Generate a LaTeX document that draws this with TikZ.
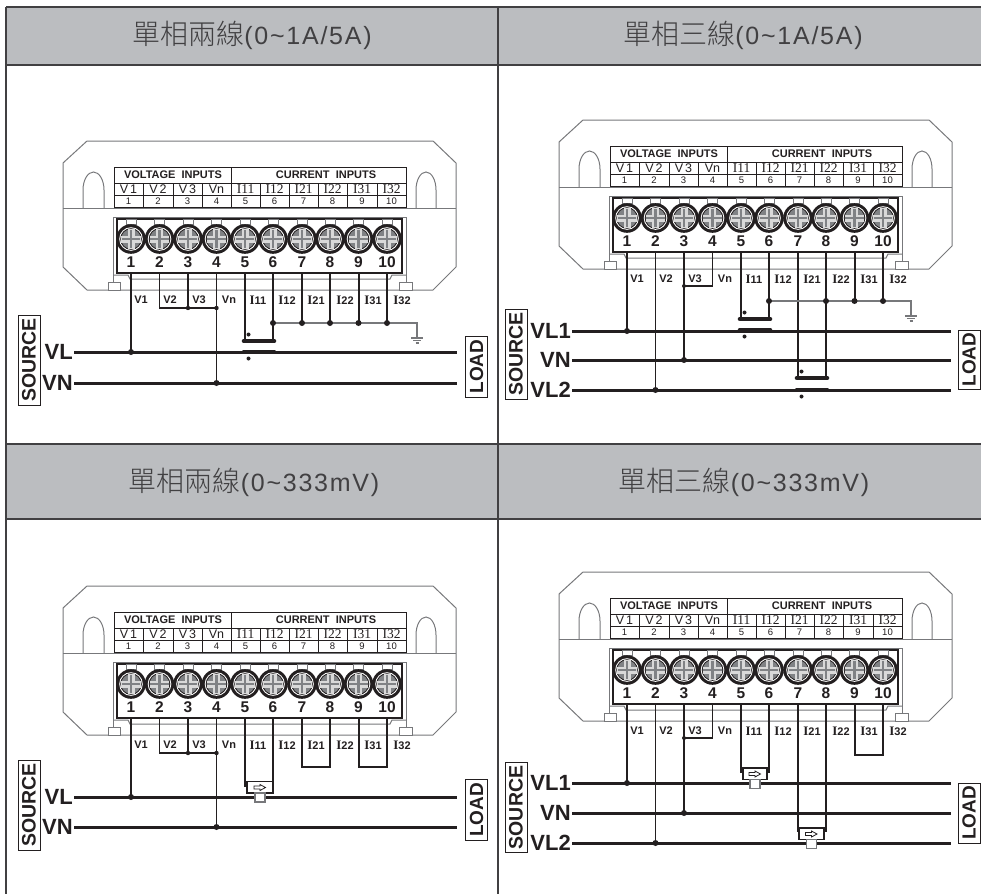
\documentclass[tikz,border=0pt]{standalone}
\usepackage{fontspec}
\setmainfont{Liberation Sans}
\newfontfamily\cjkfont{Noto Sans CJK TC Light}
\newfontfamily\headfont[LetterSpace=7]{Liberation Sans}
\newfontfamily\ifont{Liberation Serif}
\definecolor{headgray}{HTML}{BBBDC0}
\definecolor{ink}{HTML}{231F20}
\definecolor{frameink}{HTML}{414042}
\definecolor{bodygray}{HTML}{77787B}
\definecolor{screwgray}{HTML}{808285}
\tikzset{
  framer/.style={draw=frameink, line width=1.3pt},
  body/.style={draw=bodygray, line width=1pt},
  tabl/.style={draw=ink, line width=.9pt},
  wire/.style={draw=ink, line width=1.4pt},
  cwire/.style={draw=ink, line width=2pt},
  rail/.style={draw=ink, line width=3pt},
  coil/.style={draw=ink, line width=4.6pt, line cap=round},
  headtxt/.style={text=frameink, font=\fontsize{25}{25}\selectfont},
  tabhead/.style={font=\bfseries\fontsize{11}{11}\selectfont, text=ink, inner sep=0pt},
  tabname/.style={font=\fontsize{12.5}{13}\selectfont, text=ink, inner sep=0pt, anchor=base},
  tabnum/.style={font=\fontsize{9.5}{10}\selectfont, text=ink, inner sep=0pt},
  termnum/.style={font=\bfseries\fontsize{15.5}{16}\selectfont, text=ink, inner sep=0pt},
  wirelab/.style={font=\bfseries\fontsize{11}{11}\selectfont, text=ink, inner sep=0pt},
  railname/.style={font=\bfseries\fontsize{22}{22}\selectfont, text=ink, inner sep=1pt, anchor=east},
  sidebox/.style={draw=ink, line width=1pt, fill=white, rotate=90, inner sep=0pt,
    minimum height=22pt, font=\bfseries\fontsize{19.5}{20}\selectfont, text=ink},
}
\newcommand{\Ilab}[1]{{\ifont\fontsize{13}{13}\selectfont I}#1}
\newcommand{\Iname}[1]{{\ifont\fontsize{13.5}{14}\selectfont I#1}}
\newcommand{\jdot}[1]{\fill[ink] (#1) circle (3pt);}
% meter: prefix, shift x, shift y
\newcommand{\meterbox}[3]{
  \begin{scope}[shift={(#2,#3)}]
    \draw[body] (87,141) -- (433,141) -- (456,163) -- (456,267) -- (433,290) -- (87,290) -- (63,267) -- (63,163) -- cycle;
    \draw[body] (63,208) -- (456,208);
    \draw[body] (83,208) -- (83,190) arc[start angle=180, end angle=360, x radius=10.5, y radius=18] -- (104,208);
    \draw[body] (416,208) -- (416,190) arc[start angle=180, end angle=360, x radius=10, y radius=18] -- (436,208);
    \draw[body] (113,282) -- (113,217) -- (406,217) -- (406,282);
    \draw[body] (113,275) -- (128,275) -- (130,279) -- (390,279) -- (392,275) -- (406,275);
    \draw[body, fill=white] (108,282) rectangle (120,290);
    \draw[body, fill=white] (399,282) rectangle (412,290);
    % name table
    \draw[tabl, fill=white] (114,167) rectangle (406,207);
    \draw[tabl] (114,183) -- (406,183) (114,195) -- (406,195) (231,167) -- (231,207);
    \foreach \cx in {143,173,202,260,289,318,347,377} {\draw[tabl] (\cx,183) -- (\cx,207);}
    \node[tabhead] (#1volt) at (173,175) {VOLTAGE\ \ INPUTS};
    \node[tabhead] (#1curr) at (326,175) {CURRENT\ \ INPUTS};
    \foreach \n/\cx/\lab in {1/128.5/V\,1,2/158/V\,2,3/187.5/V\,3,4/216.5/Vn,5/245.5/\Iname{11},6/274.5/\Iname{12},7/303.5/\Iname{21},8/332.5/\Iname{22},9/362/\Iname{31},10/391.5/\Iname{32}} {
      \node[tabname] (#1nm\n) at (\cx,193.8) {\lab};
      \node[tabnum] (#1no\n) at (\cx,201.5) {\n};
    }
    % terminal block
    \draw[draw=ink, line width=1.7pt, fill=white] (117,219) rectangle (402,273);
    \foreach \n/\tx in {1/131,2/159.5,3/188,4/216.5,5/245,6/273,7/302,8/330,9/358.5,10/387} {
      \draw[body, fill=white] (\tx-5,219.5) rectangle (\tx+5,224.5);
      \fill[ink] (\tx,239) circle (14.8pt);
      \fill[white] (\tx,239) circle (11.8pt);
      \fill[ink] (\tx,239) circle (10.8pt);
      \fill[screwgray] (\tx,239) circle (9.8pt);
      \fill[white!85!black] (\tx-9.6,235.5) rectangle (\tx+9.6,242.5);
      \fill[white!85!black] (\tx-3.5,229.4) rectangle (\tx+3.5,248.6);
      \fill[screwgray] (\tx-9.4,237.8) rectangle (\tx+9.4,240.2);
      \fill[screwgray] (\tx-1.2,229.8) rectangle (\tx+1.2,248.2);
      \node[termnum] (#1tn\n) at (\tx,262) {\n};
      \coordinate (#1t\n) at (\tx,274);
    }
    \foreach \n/\cx/\lab in {1/141/V1,2/170/V2,3/199/V3,4/229/Vn,5/258/\Ilab{11},6/287/\Ilab{12},7/316/\Ilab{21},8/345/\Ilab{22},9/373/\Ilab{31},10/402/\Ilab{32}} {
      \node[wirelab] (#1wl\n) at (\cx,300) {\lab};
    }
  \end{scope}
}
% current coil pair: x left, x right, y upper, y lower
\newcommand{\ctcoil}[4]{
  \draw[coil] ({#1-1},#3) -- ({#2+1},#3);
  \draw[coil] ({#1-1},#4) -- ({#2+1},#4);
  \fill[ink] ({#1+3.5},{#3-6.5}) circle (2pt);
  \fill[ink] ({#1+3.5},{#4+6.5}) circle (2pt);
}
% 333mV sensor: x left, x right, y top
\newcommand{\ctclip}[3]{
  \draw[draw=ink, line width=1.2pt, fill=white] ({#1+2},#3) rectangle (#2,{#3+11.5});
  \draw[draw=bodygray, line width=1.1pt, fill=white] ({(#1+#2)/2-4},{#3+11.5}) rectangle ({(#1+#2)/2+6},{#3+20.5});
  \draw[draw=ink, line width=.8pt, fill=white] ({(#1+#2)/2-5},{#3+4.5}) -- ({(#1+#2)/2+1},{#3+4.5}) -- ({(#1+#2)/2+1},{#3+3}) -- ({(#1+#2)/2+6.5},{#3+6}) -- ({(#1+#2)/2+1},{#3+9}) -- ({(#1+#2)/2+1},{#3+7.5}) -- ({(#1+#2)/2-5},{#3+7.5}) -- cycle;
}
\newcommand{\grnd}[2]{
  \draw[draw=bodygray, line width=1.2pt] (#1-6,#2) -- (#1+6,#2);
  \draw[draw=bodygray, line width=1.2pt] (#1-4,#2+2.5) -- (#1+4,#2+2.5);
  \draw[draw=bodygray, line width=1.2pt] (#1-1.5,#2+5) -- (#1+1.5,#2+5);
}

\begin{document}
\begin{tikzpicture}[x=1pt, y=-1pt]
  \useasboundingbox (0,0) rectangle (981,894);
  % table frame
  \fill[headgray] (6,7) rectangle (981,65);
  \fill[headgray] (6,444) rectangle (981,519);
  \draw[framer] (6,7) -- (981,7) (6,65) -- (981,65) (6,444) -- (981,444) (6,519) -- (981,519);
  \draw[framer] (6,7) -- (6,894) (498,7) -- (498,894);
  \node[headtxt] (h1) at (252,35) {{\cjkfont\fontsize{28}{28}\selectfont 單相兩線}{\headfont (0\textasciitilde 1A/5A)}};
  \node[headtxt] (h2) at (743,35) {{\cjkfont\fontsize{28}{28}\selectfont 單相三線}{\headfont (0\textasciitilde 1A/5A)}};
  \node[headtxt] (h3) at (254,482) {{\cjkfont\fontsize{28}{28}\selectfont 單相兩線}{\headfont (0\textasciitilde 333mV)}};
  \node[headtxt] (h4) at (744,482) {{\cjkfont\fontsize{28}{28}\selectfont 單相三線}{\headfont (0\textasciitilde 333mV)}};

  % two wire, 1A/5A
  \meterbox{a}{0}{0}
  \node[sidebox, minimum width=90pt] (aS) at (29,360) {SOURCE};
  \node[sidebox, minimum width=61pt, font=\bfseries\fontsize{19}{20}\selectfont] (aD) at (476.5,366.5) {LOAD};
  \node[railname] (aVL) at (74,352) {VL};
  \node[railname] (aVN) at (74,383) {VN};
  \coordinate (aLe) at (457,352);
  \coordinate (aNe) at (457,383);
  \coordinate (aj) at (0,308);
  \coordinate (ag) at (417,323);
  \coordinate (ac) at (0,341);
  \draw[rail] (aVL.east) -- (aLe);
  \draw[rail] (aVN.east) -- (aNe);
  \draw[wire] (at1) -- (at1 |- aVL);
  \draw[wire] (at2) -- (at2 |- aj) -- (at4 |- aj);
  \draw[wire] (at3) -- (at3 |- aj);
  \draw[wire] (at4) -- (at4 |- aVN);
  \draw[cwire] (at5) -- (at5 |- ac);
  \draw[cwire] (at6) -- (at6 |- ac);
  \foreach \n in {7,8,9,10} {\draw[cwire] (at\n) -- (at\n |- ag);}
  \draw[wire, draw=bodygray] (at6 |- ag) -- (ag) -- ++(0,15);
  \ctcoil{245}{273}{341}{352}
  \grnd{417}{338}
  \jdot{at1 |- aVL} \jdot{at4 |- aVN}
  \fill[ink] (at3 |- aj) circle (2.2pt);
  \fill[ink] (at4 |- aj) circle (2.2pt);
  \foreach \n in {6,7,8,9,10} {\jdot{at\n |- ag}}

  % three wire, 1A/5A
  \meterbox{b}{496}{-21}
  \node[sidebox, minimum width=90pt] (bS) at (516,354) {SOURCE};
  \node[sidebox, minimum width=59pt, font=\bfseries\fontsize{19}{20}\selectfont] (bD) at (969,359.5) {LOAD};
  \node[railname] (bL1) at (572,331) {VL1};
  \node[railname] (bN) at (572,360) {VN};
  \node[railname] (bL2) at (572,390) {VL2};
  \coordinate (bL1e) at (951,331);
  \coordinate (bNe) at (951,360);
  \coordinate (bL2e) at (951,390);
  \coordinate (bj) at (0,286);
  \coordinate (bg) at (911,301);
  \coordinate (bc) at (0,319);
  \coordinate (bd) at (0,378);
  \draw[rail] (bL1.east) -- (bL1e);
  \draw[rail] (bN.east) -- (bNe);
  \draw[rail] (bL2.east) -- (bL2e);
  \draw[wire] (bt1) -- (bt1 |- bL1);
  \draw[wire] (bt2) -- (bt2 |- bL2);
  \draw[wire] (bt3) -- (bt3 |- bN);
  \draw[wire] (bt4) -- (bt4 |- bj) -- (bt3 |- bj);
  \draw[cwire] (bt5) -- (bt5 |- bc);
  \draw[cwire] (bt6) -- (bt6 |- bc);
  \draw[cwire] (bt7) -- (bt7 |- bd);
  \draw[cwire] (bt8) -- (bt8 |- bd);
  \foreach \n in {9,10} {\draw[cwire] (bt\n) -- (bt\n |- bg);}
  \draw[wire, draw=bodygray] (bt6 |- bg) -- (bg) -- ++(0,14);
  \ctcoil{741}{769}{319}{330}
  \ctcoil{798}{826}{378}{390}
  \grnd{911}{316}
  \jdot{bt1 |- bL1} \jdot{bt2 |- bL2} \jdot{bt3 |- bN}
  \fill[ink] (bt3 |- bj) circle (2pt);
  \foreach \n in {6,8,9,10} {\jdot{bt\n |- bg}}

  % two wire, 333mV
  \meterbox{c}{0}{445}
  \node[sidebox, minimum width=90pt] (cS) at (29,805) {SOURCE};
  \node[sidebox, minimum width=61pt, font=\bfseries\fontsize{19}{20}\selectfont] (cD) at (476.5,810) {LOAD};
  \node[railname] (cVL) at (74,797) {VL};
  \node[railname] (cVN) at (74,827) {VN};
  \coordinate (cLe) at (457,797);
  \coordinate (cNe) at (457,827);
  \coordinate (cj) at (0,753);
  \coordinate (cc) at (0,787);
  \coordinate (cl) at (0,767);
  \draw[rail] (cVL.east) -- (cLe);
  \draw[rail] (cVN.east) -- (cNe);
  \draw[wire] (ct1) -- (ct1 |- cVL);
  \draw[wire] (ct2) -- (ct2 |- cj) -- (ct4 |- cj);
  \draw[wire] (ct3) -- (ct3 |- cj);
  \draw[wire] (ct4) -- (ct4 |- cVN);
  \draw[cwire] (ct5) -- (ct5 |- cc);
  \draw[cwire] (ct6) -- (ct6 |- cc);
  \draw[cwire] (ct7) -- (ct7 |- cl) -- (ct8 |- cl) -- (ct8);
  \draw[cwire] (ct9) -- (ct9 |- cl) -- (ct10 |- cl) -- (ct10);
  \ctclip{245}{273}{781.5}
  \jdot{ct1 |- cVL} \jdot{ct4 |- cVN}
  \fill[ink] (ct3 |- cj) circle (2.2pt);
  \fill[ink] (ct4 |- cj) circle (2.2pt);

  % three wire, 333mV
  \meterbox{d}{496}{431}
  \node[sidebox, minimum width=90pt] (dS) at (516,807.5) {SOURCE};
  \node[sidebox, minimum width=60pt, font=\bfseries\fontsize{19}{20}\selectfont] (dD) at (969,813) {LOAD};
  \node[railname] (dL1) at (572,783) {VL1};
  \node[railname] (dN) at (572,813) {VN};
  \node[railname] (dL2) at (572,843) {VL2};
  \coordinate (dL1e) at (951,783);
  \coordinate (dNe) at (951,813);
  \coordinate (dL2e) at (951,843);
  \coordinate (dj) at (0,738);
  \coordinate (dc) at (0,773);
  \coordinate (dd) at (0,832);
  \coordinate (dl) at (0,755);
  \draw[rail] (dL1.east) -- (dL1e);
  \draw[rail] (dN.east) -- (dNe);
  \draw[rail] (dL2.east) -- (dL2e);
  \draw[wire] (dt1) -- (dt1 |- dL1);
  \draw[wire] (dt2) -- (dt2 |- dL2);
  \draw[wire] (dt3) -- (dt3 |- dN);
  \draw[wire] (dt4) -- (dt4 |- dj) -- (dt3 |- dj);
  \draw[cwire] (dt5) -- (dt5 |- dc);
  \draw[cwire] (dt6) -- (dt6 |- dc);
  \draw[cwire] (dt7) -- (dt7 |- dd);
  \draw[cwire] (dt8) -- (dt8 |- dd);
  \draw[cwire] (dt9) -- (dt9 |- dl) -- (dt10 |- dl) -- (dt10);
  \ctclip{741}{767}{768}
  \ctclip{797}{824}{828}
  \jdot{dt1 |- dL1} \jdot{dt2 |- dL2} \jdot{dt3 |- dN}
  \fill[ink] (dt3 |- dj) circle (2pt);
\end{tikzpicture}
\end{document}
